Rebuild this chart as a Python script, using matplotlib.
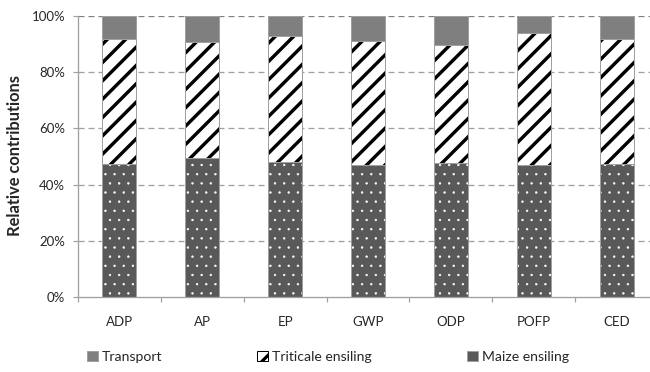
import matplotlib
matplotlib.use("Agg")
import matplotlib.pyplot as plt
from matplotlib.patches import Patch
import numpy as np

# Relative contributions (%) per impact category
categories = ["ADP", "AP", "EP", "GWP", "ODP", "POFP", "CED"]
maize = [47.3, 49.5, 48.2, 47.0, 47.6, 47.0, 47.3]
triticale = [44.4, 41.4, 44.6, 44.2, 42.1, 46.8, 44.4]
transport = [8.3, 9.1, 7.2, 8.8, 10.3, 6.2, 8.3]
y_ticks = [0, 20, 40, 60, 80, 100]
series_names = ["Transport", "Triticale ensiling", "Maize ensiling"]

DPI = 55
W, H = 650, 372


def pt(pixels):
    """Convert a size in output pixels to points."""
    return pixels * 72.0 / DPI


plt.rcParams["font.family"] = ["Lato", "DejaVu Sans"]
TXT = "#262626"
EDGE = "#a0a0a0"
C_TRANSPORT = "#7f7f7f"
C_MAIZE = "#595959"

fig = plt.figure(figsize=(W / DPI, H / DPI), dpi=DPI)
ax = fig.add_axes([78 / W, 1 - 297 / H, 580 / W, 281 / H])

x = np.arange(len(categories))
bw = 0.41


def stacked(values, bottom, face, hatch, hatch_col, hatch_px):
    with plt.rc_context({"hatch.linewidth": pt(hatch_px)}):
        ax.bar(x, values, bw, bottom=bottom, color=face, edgecolor=hatch_col,
               linewidth=0, hatch=hatch, zorder=3)
    ax.bar(x, values, bw, bottom=bottom, fill=False, edgecolor=EDGE,
           linewidth=pt(1.0), zorder=4)


maize_arr = np.array(maize)
trit_arr = np.array(triticale)
stacked(maize_arr, 0, C_MAIZE, ".", "white", 0.5)
stacked(trit_arr, maize_arr, "white", "/", "black", 3.4)
stacked(np.array(transport), maize_arr + trit_arr, C_TRANSPORT, None, C_TRANSPORT, 1.0)

ax.set_xlim(-0.5, len(categories) - 0.5)
ax.set_ylim(0, 100)

# gridlines
ax.set_yticks(y_ticks)
ax.set_yticklabels([f"{v}%" for v in y_ticks])
for v in y_ticks[1:]:
    ax.axhline(v, color="#808080" if v == 100 else EDGE, lw=pt(1.3),
               dashes=(6 / 1.3, 4 / 1.3), zorder=1)

for s in ["top", "right"]:
    ax.spines[s].set_visible(False)
for s in ["left", "bottom"]:
    ax.spines[s].set_color(EDGE)
    ax.spines[s].set_linewidth(pt(1.3))
    ax.spines[s].set_zorder(5)

FS = pt(13.3)
ax.tick_params(axis="y", direction="out", length=pt(5), width=pt(1.2),
               color=EDGE, labelsize=FS, labelcolor=TXT, pad=pt(8))
ax.set_xticks(np.arange(len(categories) + 1) - 0.5)
ax.set_xticklabels([])
ax.set_xticks(x, minor=True)
ax.set_xticklabels(categories, minor=True)
ax.tick_params(axis="x", which="major", direction="out", length=pt(5),
               width=pt(1.2), color=EDGE)
ax.tick_params(axis="x", which="minor", length=0, labelsize=FS,
               labelcolor=TXT, pad=pt(19))

fig.text(15 / W, 1 - 155 / H, "Relative contributions", rotation=90,
         ha="center", va="center", fontsize=pt(16.5), fontweight="bold",
         color=TXT)

with plt.rc_context({"hatch.linewidth": pt(3.2)}):
    handles = [
        Patch(facecolor=C_TRANSPORT, edgecolor=EDGE, linewidth=pt(1)),
        Patch(facecolor="white", edgecolor="black", hatch="/", linewidth=pt(1)),
        Patch(facecolor=C_MAIZE, edgecolor=EDGE, linewidth=pt(1)),
    ]
    fig.legend(handles, series_names, loc="center", ncol=3,
               bbox_to_anchor=(328 / W, 1 - 357 / H), frameon=False,
               fontsize=pt(14), labelcolor=TXT, handlelength=0.75,
               handleheight=0.75, handletextpad=0.3, columnspacing=6.8,
               borderpad=0, borderaxespad=0)

fig.savefig("out.png", dpi=DPI)
